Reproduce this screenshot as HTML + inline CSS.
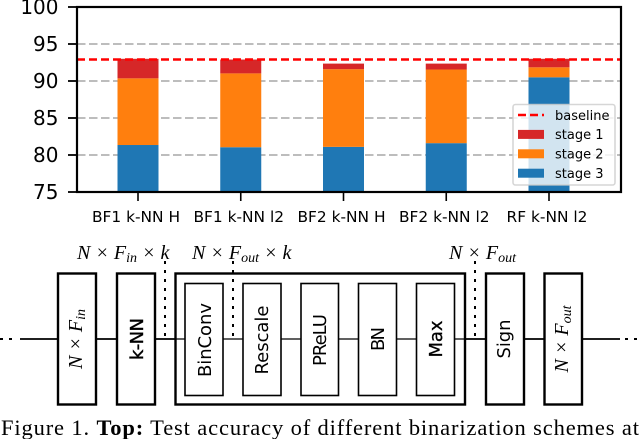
<!DOCTYPE html>
<html lang="en">
<head>
<meta charset="utf-8">
<title>Binarization schemes chart</title>
<style>
  html, body { margin: 0; padding: 0; background: #fff; }
  svg { display: block; filter: blur(0.3px); }
  .tick { font-family: "DejaVu Sans", "Liberation Sans", sans-serif; fill: #000; }
  .math { font-family: "Liberation Serif", serif; font-style: italic; fill: #000; }
  .block-label { font-family: "DejaVu Sans", "Liberation Sans", sans-serif; font-size: 18px; fill: #000; text-anchor: middle; }
  .block { fill: #fff; stroke: #000; stroke-width: 2.4; }
  .inner { fill: #fff; stroke: #000; stroke-width: 1.6; }
  .wire { stroke: #000; stroke-width: 1.8; fill: none; }
  .dots { stroke: #000; stroke-width: 2; stroke-dasharray: 3 6; fill: none; }
</style>
</head>
<body>
<svg id="figure" xmlns="http://www.w3.org/2000/svg" width="640" height="439" viewBox="0 0 640 439">
  <g id="chart"></g>

  <g>
    <line class="dots" x1="0" y1="339" x2="15" y2="339"/>
    <line class="dots" x1="625" y1="339" x2="640" y2="339"/>
    <line class="wire" x1="20" y1="339" x2="620" y2="339"/>
    <line class="dots" x1="165" y1="261" x2="165" y2="339"/>
    <line class="dots" x1="475" y1="261" x2="475" y2="339"/>

    <rect class="block" x="58" y="273.5" width="38" height="131"/>
    <rect class="block" x="117" y="273.5" width="38" height="131"/>
    <rect class="block" x="175.5" y="273.5" width="289.5" height="131"/>
    <line class="wire" x1="175" y1="339" x2="465" y2="339" style="stroke-width:1.3"/>
    <line class="dots" x1="233" y1="261" x2="233" y2="339"/>
    <rect class="inner" x="185" y="283.5" width="38" height="112"/>
    <rect class="inner" x="243" y="283.5" width="38" height="112"/>
    <rect class="inner" x="301" y="283.5" width="37.5" height="112"/>
    <rect class="inner" x="358.5" y="283.5" width="38" height="112"/>
    <rect class="inner" x="416.5" y="283.5" width="38" height="112"/>
    <rect class="block" x="486" y="273.5" width="38" height="131"/>
    <rect class="block" x="544.5" y="273.5" width="37.5" height="131"/>

    <text class="block-label" transform="translate(143 339) rotate(-90)" textLength="42" stroke="#000" stroke-width="0.4">k-NN</text>
    <text class="block-label" transform="translate(211 340) rotate(-90)" textLength="74">BinConv</text>
    <text class="block-label" transform="translate(268 340) rotate(-90)" textLength="69">Rescale</text>
    <text class="block-label" transform="translate(326 340) rotate(-90)" textLength="52">PReLU</text>
    <text class="block-label" transform="translate(384 339) rotate(-90)" textLength="24">BN</text>
    <text class="block-label" transform="translate(442 339) rotate(-90)" textLength="37" stroke="#000" stroke-width="0.3">Max</text>
    <text class="block-label" transform="translate(510 339) rotate(-90)" textLength="39">Sign</text>

    <text class="math" font-size="20" text-anchor="middle" transform="translate(82 339) rotate(-90)">N × F<tspan font-size="14" dy="3">in</tspan></text>
    <text class="math" font-size="20" text-anchor="middle" transform="translate(568 339) rotate(-90)">N × F<tspan font-size="14" dy="3">out</tspan></text>
    <text class="math" font-size="20" x="77" y="259">N × F<tspan font-size="14" dy="3">in</tspan><tspan dy="-3"> × k</tspan></text>
    <text class="math" font-size="20" x="192" y="259">N × F<tspan font-size="14" dy="3">out</tspan><tspan dy="-3"> × k</tspan></text>
    <text class="math" font-size="20" x="449" y="259">N × F<tspan font-size="14" dy="3">out</tspan></text>
  </g>

  <text x="1" y="435" font-family="'Liberation Serif', serif" font-size="22.5" fill="#000" textLength="638">Figure 1. <tspan font-weight="bold">Top:</tspan> Test accuracy of different binarization schemes at</text>
</svg>

<script>
const categories = ["BF1 k-NN H", "BF1 k-NN l2", "BF2 k-NN H", "BF2 k-NN l2", "RF k-NN l2"];
const stage3Values = [81.35, 81.05, 81.1, 81.6, 90.5];
const stage2Values = [90.36, 91.03, 91.6, 91.55, 91.85];
const stage1Values = [93.0, 92.9, 92.35, 92.35, 93.0];
const baselineValue = 92.9;
const yTicks = [75, 80, 85, 90, 95, 100];
const gridValues = [80, 85, 90, 95];
const legendLabels = ["baseline", "stage 1", "stage 2", "stage 3"];

const NS = "http://www.w3.org/2000/svg";
const chart = document.getElementById("chart");
const plotLeft = 77, plotRight = 621, plotTop = 7, plotBottom = 192;
const yMin = 75, yMax = 100;
const firstCenter = 138, lastCenter = 549, barWidth = 41;

function yScale(v) { return plotBottom - (v - yMin) / (yMax - yMin) * (plotBottom - plotTop); }
function xScale(i) { return firstCenter + i * (lastCenter - firstCenter) / (categories.length - 1); }

function make(tag, attrs, text) {
  const el = document.createElementNS(NS, tag);
  for (const k in attrs) el.setAttribute(k, attrs[k]);
  if (text !== undefined) el.textContent = text;
  chart.appendChild(el);
  return el;
}

gridValues.forEach(function (v) {
  const el = make("line", { x1: plotLeft, x2: plotRight, y1: yScale(v), y2: yScale(v), stroke: "#bdbdbd", "stroke-width": 2, "stroke-dasharray": "8.5 3.5" });
  
  
});

categories.forEach(function (c, i) {
  const x = xScale(i) - barWidth / 2;
  const s3 = make("rect", { x: x, width: barWidth, y: yScale(stage3Values[i]), height: yScale(yMin) - yScale(stage3Values[i]), fill: "#1f77b4" });
  
  
  const s2 = make("rect", { x: x, width: barWidth, y: yScale(stage2Values[i]), height: yScale(stage3Values[i]) - yScale(stage2Values[i]), fill: "#ff7f0e" });
  
  
  const s1 = make("rect", { x: x, width: barWidth, y: yScale(stage1Values[i]), height: yScale(stage2Values[i]) - yScale(stage1Values[i]), fill: "#d62728" });
  
  

  const tick = make("line", { x1: xScale(i), x2: xScale(i), y1: plotBottom, y2: plotBottom + 9, stroke: "#000", "stroke-width": 1.6 });
  
  
  const label = make("text", { class: "tick", x: xScale(i) - 2, y: 222, "font-size": 15.4, "text-anchor": "middle" }, c);
  
  
});

const baselineLine = make("line", { x1: plotLeft, x2: plotRight, y1: yScale(baselineValue), y2: yScale(baselineValue), stroke: "#ff0000", "stroke-width": 2.5, "stroke-dasharray": "8 4" });



yTicks.forEach(function (v) {
  const tick = make("line", { x1: plotLeft - 9, x2: plotLeft, y1: yScale(v), y2: yScale(v), stroke: "#000", "stroke-width": 1.8 });
  
  
  const label = make("text", { class: "tick", x: 58.5, y: yScale(v) + 7.2, "font-size": 20, "text-anchor": "end" }, String(v));
  
  
});

const frame = make("rect", { x: plotLeft, y: plotTop, width: plotRight - plotLeft, height: plotBottom - plotTop, fill: "none", stroke: "#000", "stroke-width": 2.2 });



const legendBox = make("rect", { x: 513, y: 104.5, width: 102, height: 80.5, rx: 2.5, fill: "#fff", "fill-opacity": 0.8, stroke: "#ccc", "stroke-opacity": 0.8, "stroke-width": 1.6 });



const legendColors = ["#ff0000", "#d62728", "#ff7f0e", "#1f77b4"];
legendLabels.forEach(function (name, i) {
  const rowY = 115 + i * 19.4;
  if (i === 0) {
    const h = make("line", { x1: 518, x2: 544, y1: rowY, y2: rowY, stroke: legendColors[i], "stroke-width": 2.5, "stroke-dasharray": "8 4" });
    
    
  } else {
    const p = make("rect", { x: 518, y: rowY - 4.5, width: 26, height: 9, fill: legendColors[i] });
    
    
  }
  const t = make("text", { class: "tick", x: 555, y: rowY + 4.8, "font-size": 13 }, name);
  
  
});
</script>
</body>
</html>
